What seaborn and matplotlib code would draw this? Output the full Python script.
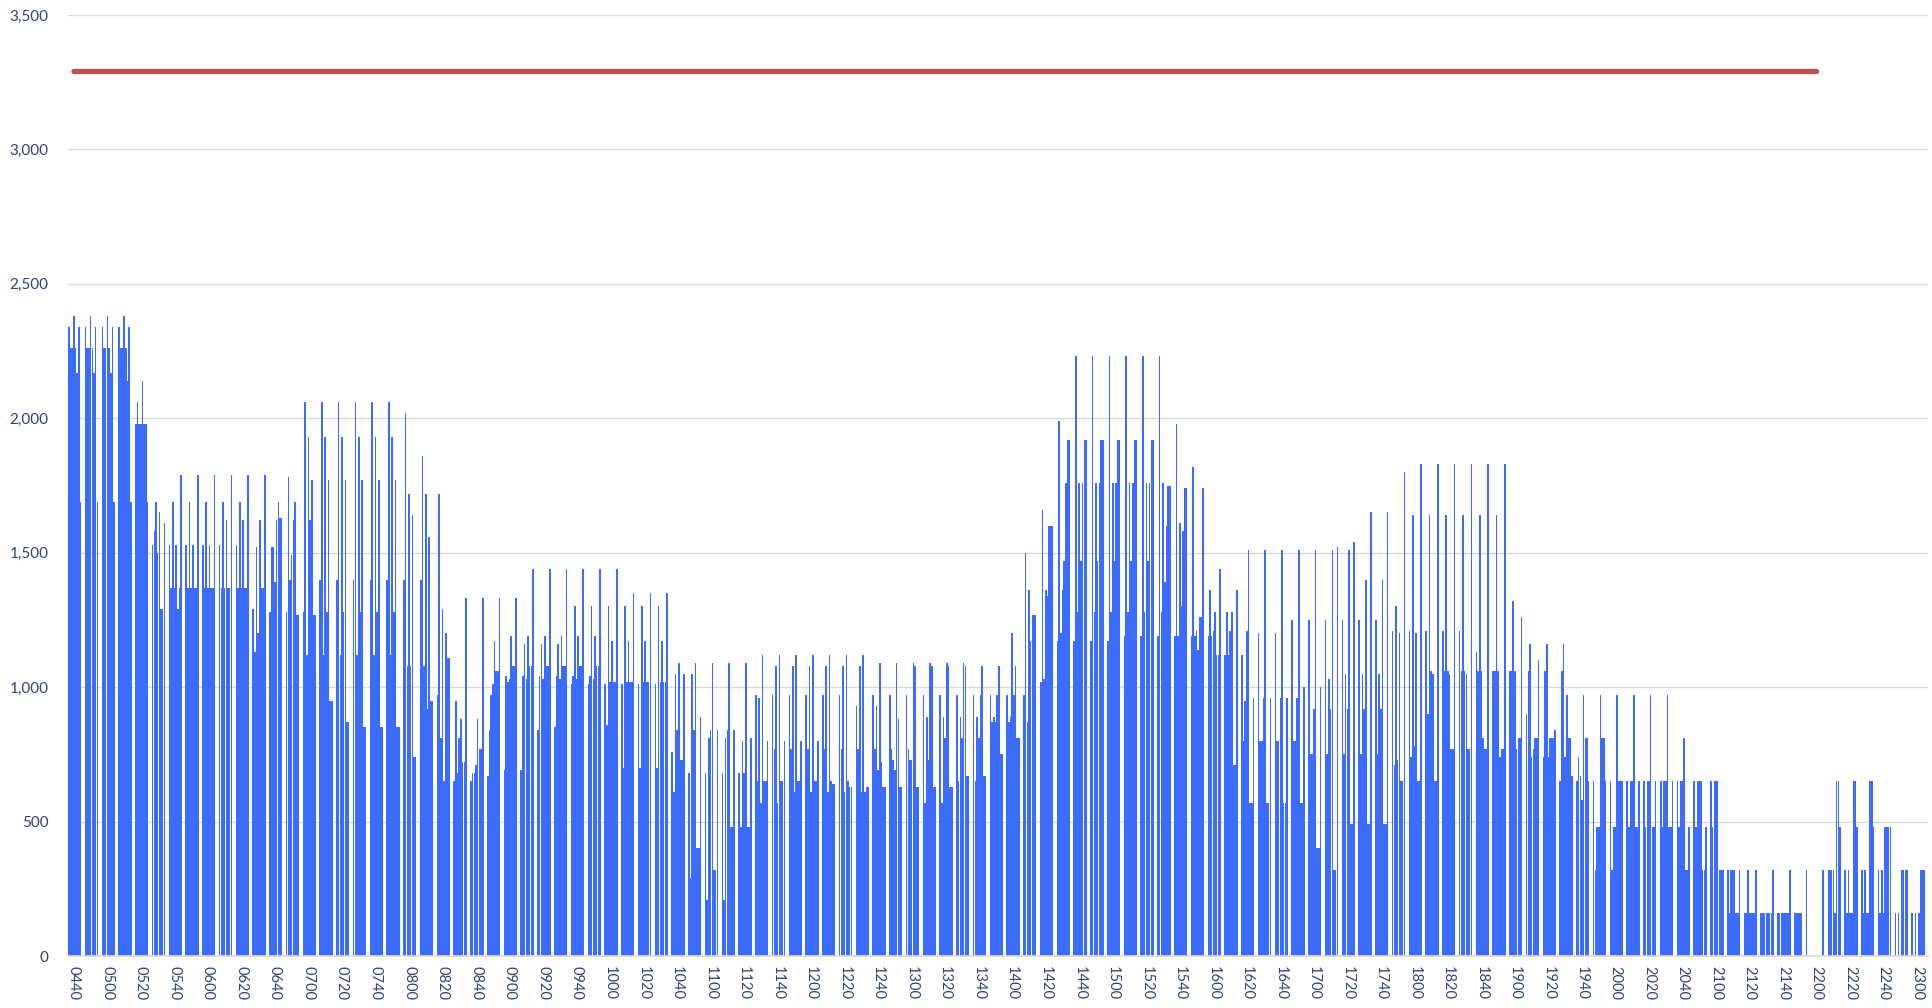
import numpy as np
import pandas as pd
import matplotlib
matplotlib.use("Agg")
import matplotlib.pyplot as plt
import seaborn as sns

# per-minute volumes, one row per 10-minute block (last two minutes of each block are empty)
mins_0437 = [
    2340, 2260, 2260, 2380, 2260, 2170, 2340, 1690, 0, 0,
    2340, 2260, 2260, 2380, 2260, 2170, 2340, 1690, 0, 0,
    2340, 2260, 2260, 2380, 2260, 2170, 2340, 1690, 0, 0,
    2340, 2260, 2260, 2380, 2260, 2140, 2340, 1690, 0, 0,
    1980, 2060, 1980, 1980, 2140, 1980, 1980, 1690, 0, 0,
    1530, 1580, 1690, 1500, 1650, 1290, 1290, 1610, 0, 0,
    1530, 1370, 1690, 1370, 1530, 1290, 1370, 1790, 0, 0,
    1530, 1370, 1690, 1370, 1530, 1370, 1370, 1790, 0, 0,
    1530, 1370, 1690, 1370, 1530, 1370, 1370, 1790, 0, 0,
    1530, 1370, 1690, 1370, 1620, 1370, 1370, 1790, 0, 0,
]
mins_0617 = [
    1530, 1370, 1690, 1370, 1620, 1370, 1370, 1790, 0, 0,
    1290, 1130, 1520, 1200, 1620, 1370, 1370, 1790, 0, 0,
    1280, 1520, 1520, 1390, 1620, 1690, 1630, 1630, 0, 0,
    1280, 1780, 1400, 1490, 1620, 1690, 1270, 1270, 0, 0,
    1280, 2060, 1120, 1930, 1620, 1770, 1270, 1270, 0, 0,
    1400, 2060, 1120, 1930, 1280, 1770, 950, 950, 0, 0,
    1400, 2060, 1120, 1930, 1280, 1770, 870, 870, 0, 0,
    1400, 2060, 1120, 1930, 1280, 1770, 850, 850, 0, 0,
    1400, 2060, 1120, 1930, 1280, 1770, 850, 850, 0, 0,
    1400, 2060, 1120, 1930, 1280, 1770, 850, 850, 0, 0,
]
mins_0757 = [
    1400, 2020, 1080, 1720, 1080, 1640, 740, 740, 0, 0,
    1400, 1860, 1080, 1720, 920, 1560, 950, 950, 0, 0,
    970, 1720, 810, 1290, 650, 1200, 1110, 1110, 0, 0,
    650, 950, 680, 810, 880, 720, 720, 1330, 0, 0,
    650, 680, 680, 710, 880, 770, 770, 1330, 0, 0,
    670, 840, 970, 1010, 1170, 1060, 1060, 1330, 0, 0,
    690, 1040, 1020, 1030, 1190, 1080, 1080, 1330, 0, 0,
    690, 1040, 1160, 1030, 1190, 1080, 1080, 1440, 0, 0,
    840, 1040, 1160, 1030, 1190, 1080, 1080, 1440, 0, 0,
    850, 1040, 1160, 1030, 1190, 1080, 1080, 1440, 0, 0,
]
mins_0937 = [
    1010, 1040, 1300, 1030, 1190, 1080, 1080, 1440, 0, 0,
    1010, 1040, 1300, 1030, 1190, 1080, 1080, 1440, 0, 0,
    1010, 860, 1300, 1020, 1170, 1020, 1020, 1440, 0, 0,
    1010, 700, 1300, 1020, 1170, 1020, 1020, 1350, 0, 0,
    1010, 700, 1300, 1020, 1170, 1020, 1020, 1350, 0, 0,
    1010, 700, 1300, 1020, 1170, 1020, 1020, 1350, 0, 0,
    760, 610, 1050, 840, 1090, 730, 730, 1050, 0, 0,
    680, 290, 1050, 840, 1090, 400, 400, 890, 0, 0,
    680, 210, 810, 840, 1090, 320, 320, 840, 0, 0,
    680, 210, 810, 840, 1090, 480, 480, 840, 0, 0,
]
mins_1117 = [
    680, 480, 800, 680, 1090, 480, 480, 810, 0, 0,
    970, 650, 960, 570, 1120, 650, 650, 800, 0, 0,
    970, 770, 1080, 570, 1120, 650, 650, 800, 0, 0,
    970, 770, 1080, 610, 1120, 650, 650, 800, 0, 0,
    970, 770, 1080, 610, 1120, 650, 650, 800, 0, 0,
    970, 770, 1080, 610, 1120, 650, 640, 640, 0, 0,
    970, 770, 1080, 610, 1120, 650, 630, 630, 0, 0,
    930, 770, 1080, 610, 1120, 610, 630, 630, 0, 0,
    970, 770, 930, 690, 1090, 720, 630, 630, 0, 0,
    970, 770, 730, 690, 1090, 880, 630, 630, 0, 0,
]
mins_1257 = [
    970, 770, 730, 730, 1090, 1080, 630, 630, 0, 0,
    970, 570, 890, 730, 1090, 1080, 630, 630, 0, 0,
    970, 570, 890, 810, 1090, 1080, 630, 630, 0, 0,
    970, 650, 890, 810, 1090, 1080, 670, 670, 0, 0,
    970, 650, 890, 810, 970, 1080, 670, 670, 0, 0,
    970, 870, 890, 870, 970, 1080, 750, 750, 0, 0,
    970, 870, 890, 1200, 970, 1080, 810, 810, 0, 0,
    970, 1500, 870, 1360, 1170, 1270, 1270, 1270, 0, 0,
    1020, 1660, 1030, 1360, 1340, 1600, 1600, 1600, 0, 0,
    1170, 1990, 1200, 1360, 1470, 1760, 1920, 1920, 0, 0,
]
mins_1437 = [
    1170, 2230, 1280, 1760, 1470, 1760, 1920, 1920, 0, 0,
    1170, 2230, 1280, 1760, 1470, 1760, 1920, 1920, 0, 0,
    1170, 2230, 1280, 1760, 1470, 1760, 1920, 1920, 0, 0,
    1190, 2230, 1280, 1760, 1470, 1760, 1920, 1920, 0, 0,
    1190, 2230, 1280, 1760, 1470, 1760, 1920, 1920, 0, 0,
    1190, 2230, 1280, 1760, 1390, 1600, 1750, 1750, 0, 0,
    1190, 1980, 1190, 1610, 1300, 1580, 1740, 1740, 0, 0,
    1190, 1820, 1190, 1210, 1140, 1260, 1260, 1740, 0, 0,
    1190, 1360, 1190, 1210, 1280, 1120, 1120, 1440, 0, 0,
    1120, 1280, 1120, 1210, 1280, 710, 710, 1360, 0, 0,
]
mins_1617 = [
    1120, 800, 950, 1210, 1510, 570, 570, 960, 0, 0,
    1200, 800, 800, 960, 1510, 570, 570, 960, 0, 0,
    1200, 800, 800, 960, 1510, 570, 570, 960, 0, 0,
    1250, 800, 800, 960, 1510, 570, 570, 1000, 0, 0,
    1250, 750, 750, 920, 1510, 400, 400, 1000, 0, 0,
    1250, 750, 1030, 920, 1510, 320, 320, 1520, 0, 0,
    1250, 750, 1050, 920, 1510, 490, 490, 1540, 0, 0,
    1250, 750, 1050, 920, 1400, 490, 490, 1650, 0, 0,
    1250, 750, 1050, 920, 1400, 490, 490, 1650, 0, 0,
    1210, 710, 1300, 730, 1200, 650, 650, 1800, 0, 0,
]
mins_1757 = [
    1210, 740, 1640, 780, 1200, 650, 650, 1830, 0, 0,
    1210, 900, 1640, 1060, 1050, 650, 650, 1830, 0, 0,
    1210, 1060, 1640, 1060, 1050, 770, 770, 1830, 0, 0,
    1210, 1060, 1640, 1060, 1050, 770, 770, 1830, 0, 0,
    1130, 1060, 1640, 1060, 810, 770, 770, 1830, 0, 0,
    1060, 1060, 1640, 1060, 740, 770, 770, 1830, 0, 0,
    1060, 1060, 1320, 1060, 770, 810, 810, 1260, 0, 0,
    900, 1060, 1160, 740, 770, 810, 810, 1100, 0, 0,
    740, 1060, 1160, 740, 810, 810, 810, 840, 0, 0,
    650, 1060, 1160, 740, 970, 810, 810, 670, 0, 0,
]
mins_1937 = [
    650, 740, 670, 580, 970, 810, 810, 650, 0, 0,
    650, 320, 480, 480, 970, 810, 810, 650, 0, 0,
    650, 320, 480, 480, 970, 650, 650, 650, 0, 0,
    650, 480, 650, 650, 970, 480, 480, 650, 0, 0,
    650, 480, 650, 650, 970, 480, 480, 650, 0, 0,
    650, 480, 650, 650, 970, 480, 480, 650, 0, 0,
    650, 480, 650, 650, 810, 320, 320, 480, 0, 0,
    650, 480, 650, 650, 650, 320, 320, 480, 0, 0,
    650, 480, 650, 650, 650, 320, 320, 320, 0, 0,
    320, 160, 320, 320, 320, 160, 160, 320, 0, 0,
]
mins_2117 = [
    160, 160, 320, 160, 160, 160, 160, 320, 0, 0,
    160, 160, 160, 160, 160, 160, 160, 320, 0, 0,
    160, 160, 160, 160, 160, 160, 160, 320, 0, 0,
    160, 160, 160, 160, 160, 0, 0, 320, 0, 0,
    0, 0, 0, 0, 0, 0, 0, 320, 0, 0,
    320, 320, 320, 320, 160, 650, 650, 480, 0, 0,
    320, 160, 320, 160, 160, 650, 650, 480, 0, 0,
    320, 160, 320, 160, 160, 650, 650, 480, 0, 0,
    320, 160, 320, 160, 480, 480, 480, 480, 0, 0,
    160, 0, 160, 0, 320, 320, 320, 320, 0, 0,
    160, 0, 160, 0, 160, 320, 320, 320, 0, 0,
]

first_minute = "04:37"
capacity = 3290
capacity_from = "0440"
capacity_to = "2200"

tick_labels = [
    "0440", "0500", "0520", "0540", "0600", "0620", "0640", "0700", "0720", "0740",
    "0800", "0820", "0840", "0900", "0920", "0940", "1000", "1020", "1040", "1100",
    "1120", "1140", "1200", "1220", "1240", "1300", "1320", "1340", "1400", "1420",
    "1440", "1500", "1520", "1540", "1600", "1620", "1640", "1700", "1720", "1740",
    "1800", "1820", "1840", "1900", "1920", "1940", "2000", "2020", "2040", "2100",
    "2120", "2140", "2200", "2220", "2240", "2300",
]
y_ticks = [0, 500, 1000, 1500, 2000, 2500, 3000, 3500]

BAR_BLUE = "#3B6BFF"
LINE_RED = "#C0504D"
TEXT = "#2E4372"
GRID = "#D9D9D9"

volume = (mins_0437 + mins_0617 + mins_0757 + mins_0937 + mins_1117 + mins_1257
          + mins_1437 + mins_1617 + mins_1757 + mins_1937 + mins_2117)
times = list(pd.date_range(first_minute, periods=len(volume), freq="min").strftime("%H%M"))

df = pd.DataFrame({"time": times, "volume": volume})
df["pos"] = np.arange(len(df))
in_range = (df["time"] >= capacity_from) & (df["time"] <= capacity_to)
df["capacity"] = np.where(in_range, capacity, np.nan)

sns.set_theme(style="white")
plt.rcParams["font.family"] = ["Lato", "DejaVu Sans"]

fig, ax = plt.subplots(figsize=(19.32, 10.08), dpi=100)
fig.subplots_adjust(left=68 / 1932, right=1928 / 1932, bottom=52 / 1008, top=993 / 1008)

sns.barplot(data=df, x="time", y="volume", order=times, color=BAR_BLUE,
            saturation=1, width=0.92, errorbar=None, linewidth=0, ax=ax, zorder=2)
# crisp pixel-snapped bars, like the spreadsheet rendering
for bar in ax.patches:
    bar.set_antialiased(False)

sns.lineplot(data=df.dropna(subset=["capacity"]), x="pos", y="capacity",
             color=LINE_RED, linewidth=3.8, ax=ax, zorder=3)

ax.set_xlim(-0.5, len(df) - 0.5)
ax.set_ylim(0, 3500)
ax.set_yticks(y_ticks)
ax.set_yticklabels([f"{v:,}" for v in y_ticks])
ax.set_xticks([times.index(t) for t in tick_labels])
ax.set_xticklabels(tick_labels, rotation=-90)
ax.tick_params(axis="x", length=0, pad=7, labelsize=10.5, labelcolor=TEXT)
ax.tick_params(axis="y", length=0, pad=14, labelsize=11, labelcolor=TEXT)
for lab in ax.get_xticklabels():
    lab.set_va("top")
    lab.set_ha("center")

ax.yaxis.grid(True, color=GRID, linewidth=1, zorder=0)
ax.set_axisbelow(True)
for side in ["top", "right", "left"]:
    ax.spines[side].set_visible(False)
ax.spines["bottom"].set_color(GRID)
ax.set_xlabel("")
ax.set_ylabel("")

fig.savefig("out.png", dpi=100)
